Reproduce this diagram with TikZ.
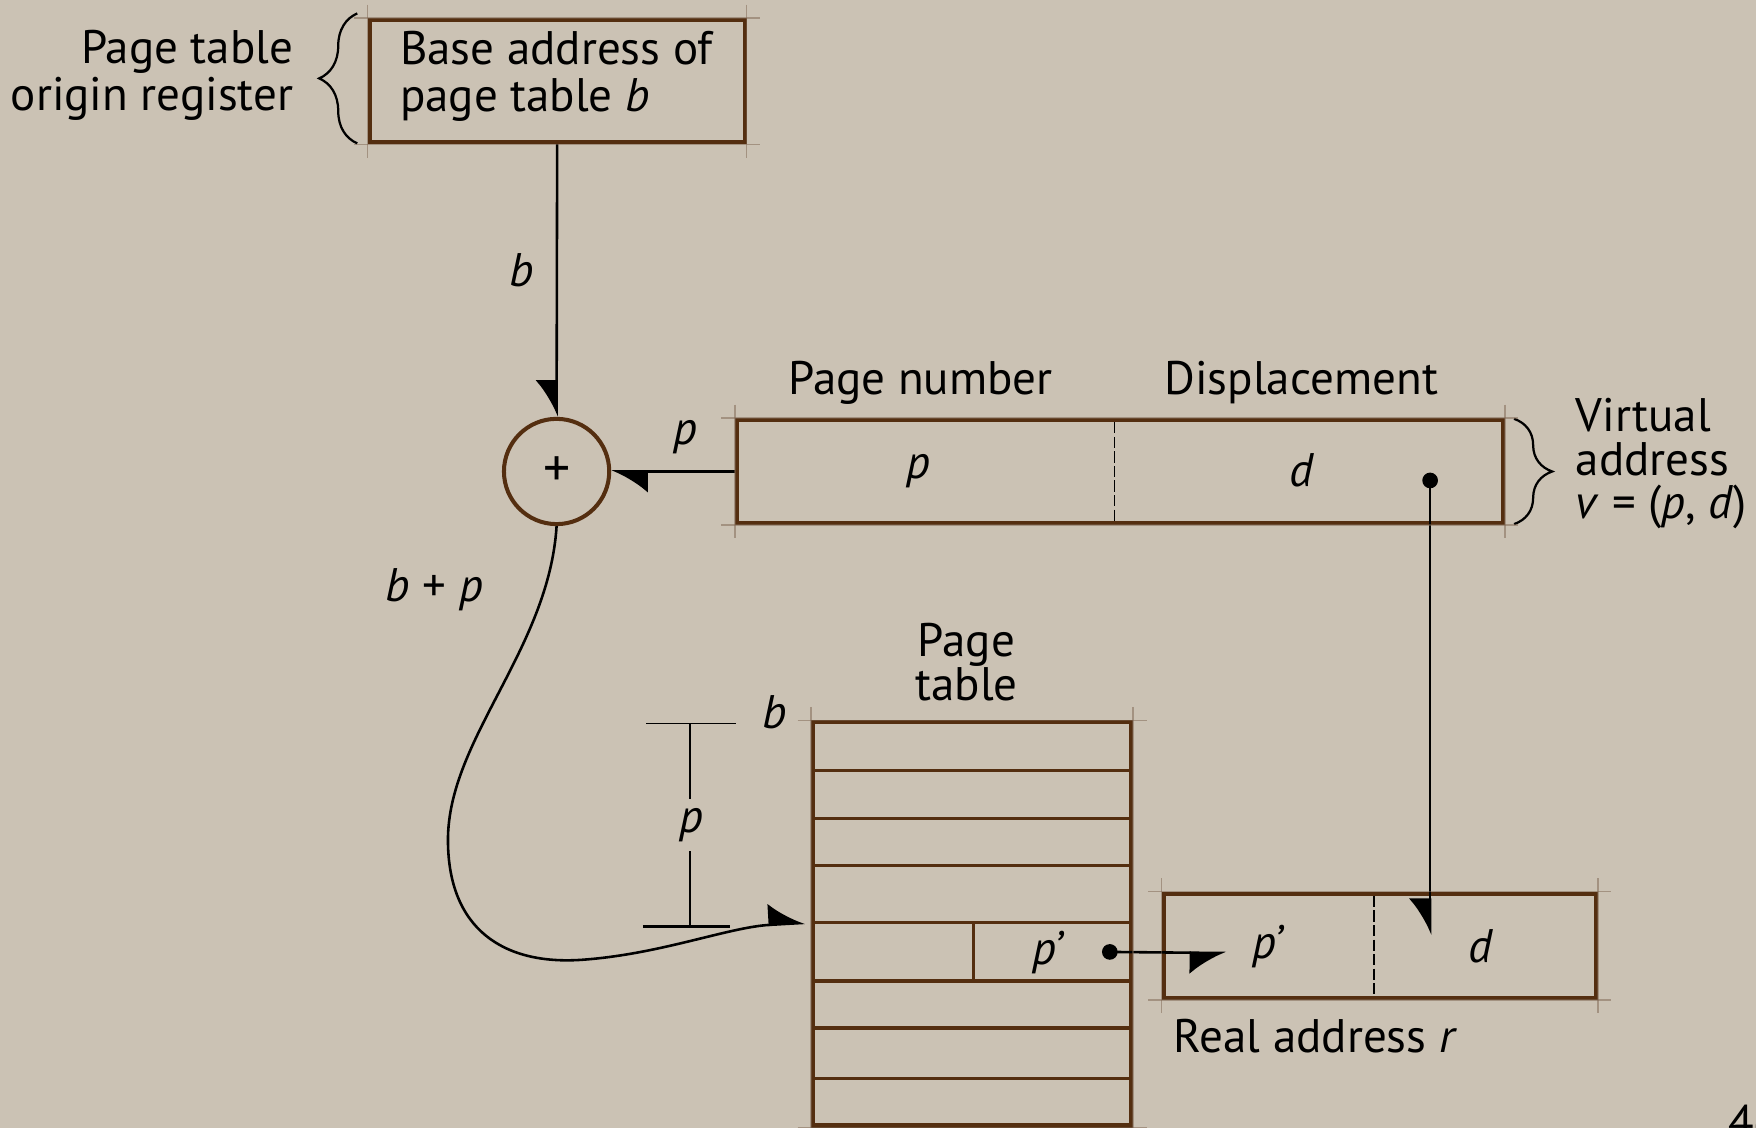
\documentclass[tikz,border=0pt]{standalone}
\usepackage{fontspec}
\setmainfont{PT Sans}
\usetikzlibrary{arrows.meta,decorations.pathreplacing}
\definecolor{bg}{RGB}{203,194,180}
\definecolor{boxc}{RGB}{84,46,16}
\definecolor{extc}{RGB}{125,100,80}
\begin{document}
\begin{tikzpicture}[x=1pt,y=-1pt,
  lbl/.style={font=\fontsize{42}{42}\selectfont, inner sep=0pt},
  var/.style={font=\fontsize{42}{42}\selectfont\itshape, inner sep=0pt},
  regbox/.style={draw=boxc, line width=3.6pt, rectangle, inner sep=0pt},
  rowline/.style={draw=boxc, line width=3pt},
  ext/.style={draw=extc, line width=1.2pt, opacity=0.5, shorten <=-12pt, shorten >=-12pt},
  conn/.style={draw=black, line width=2.3pt},
  headR/.style={-{Latex[length=30pt,width=38pt,right]}},
  headL/.style={-{Latex[length=30pt,width=38pt,left]}},
  blob/.style={circle, fill=black, inner sep=0pt, minimum size=14pt},
  divider/.style={draw=black, line width=1.3pt, dash pattern=on 10pt off 3pt},
  bracec/.style={draw=black, line width=2pt, decorate},
]
\fill[bg] (0,0) rectangle (1568,1007);
\useasboundingbox (0,0) rectangle (1568,1007);

% page table origin register
\node[regbox, minimum width=335pt, minimum height=109pt] (ptor) at (497.5,72.5) {};
\node[lbl, align=left, anchor=west] (ptortxt) at (357,68) {Base address of\\page table \textit{b}};
\node[lbl, align=right, anchor=east] (ptorlbl) at (262,67) {Page table\\origin register};
\coordinate (lbA) at (319,128);
\coordinate (lbB) at (319,12);
\draw[bracec, decoration={brace, amplitude=34pt}] (lbA) -- (lbB);

% adder
\node[circle, draw=boxc, line width=3.6pt, minimum size=94pt, inner sep=0pt,
      font=\fontsize{48}{48}\selectfont] (adder) at (497,421) {+};
\draw[conn, headR] (ptor.south) -- (adder.north);
\node[var] (lb) at (466,241) {b};

% virtual address
\node[regbox, minimum width=684pt, minimum height=92pt] (va) at (1000,421) {};
\draw[divider] (995,377) -- (995,465);
\node[lbl] (pnum) at (822,342) {Page number};
\node[lbl] (disp) at (1162,342) {Displacement};
\node[var] (vp) at (820,421) {p};
\node[var] (vd) at (1162,420) {d};
\draw[conn, headL] (va.west) -- (adder.east);
\node[var] (lp) at (612,390) {p};
\draw[bracec, decoration={brace, amplitude=34pt}] (1352,374) -- (1352,468);
\node[font=\fontsize{42}{39}\selectfont, inner sep=0pt, align=left, anchor=west] (vlbl) at (1407,414)
  {Virtual\\address\\\textit{v} = (\textit{p}, \textit{d})};
\node[blob] (vdot) at (1277,429) {};
\coordinate (dtip) at (1277,835);

% curve b+p
\coordinate (ctip) at (719,824);
\draw[conn, headL] (adder.south) .. controls (490,580) and (400,660) .. (400,750)
  .. controls (400,830) and (450,862) .. (520,857)
  .. controls (590,852) and (650,828) .. (ctip);
\node[lbl] (lbp) at (388,527) {\textit{b} + \textit{p}};

% dimension marker
\coordinate (dt1) at (577,646);
\coordinate (dt2) at (657,646);
\coordinate (db1) at (574,827);
\coordinate (db2) at (652,827);
\coordinate (dimtop) at (616,646);
\coordinate (dimbot) at (616,827);
\draw[conn, line width=1.6pt] (dt1) -- (dt2);
\draw[conn, line width=2.4pt] (db1) -- (db2);
\node[var, inner sep=8pt] (dimp) at (617,737) {p};
\draw[conn] (dimtop) -- (dimtop |- dimp.north);
\draw[conn] (dimbot |- dimp.south) -- (dimbot);

% page table
\node[regbox, minimum width=284pt, minimum height=360pt] (ptab) at (868,825) {};
\foreach \yy in {688,731,773,824,876,918,963} \draw[rowline] (726,\yy) -- (1010,\yy);
\draw[rowline] (869,824) -- (869,876);
\node[font=\fontsize{42}{38}\selectfont, inner sep=0pt, align=center] (ptabl) at (863,591) {Page\\table};
\node[var] (tb) at (692,636) {b};
\node[var] (tpp) at (935,851) {p’};
\node[blob] (tdot) at (991,850) {};

% real address
\node[regbox, minimum width=386pt, minimum height=93pt] (ra) at (1232,844.5) {};
\draw[divider] (1227,800) -- (1227,889);
\coordinate (ptip) at (1095,851);
\draw[conn, headR] (tdot.center) -- (ptip);
\node[var] (rpp) at (1132,845) {p’};
\node[var] (rd) at (1322,845) {d};
\node[lbl, anchor=west] (ralbl) at (1048,925) {Real address \textit{r}};
\draw[conn, headR] (vdot.center) -- (dtip);

% faint extension lines of the boxes
\foreach \b in {ptor,va,ptab,ra} {
  \draw[ext] (\b.north west) -- (\b.north east);
  \draw[ext] (\b.south west) -- (\b.south east);
  \draw[ext] (\b.north west) -- (\b.south west);
  \draw[ext] (\b.north east) -- (\b.south east);
}

\node[lbl, anchor=west] (pgnum) at (1543,1002) {46};
\end{tikzpicture}
\end{document}
